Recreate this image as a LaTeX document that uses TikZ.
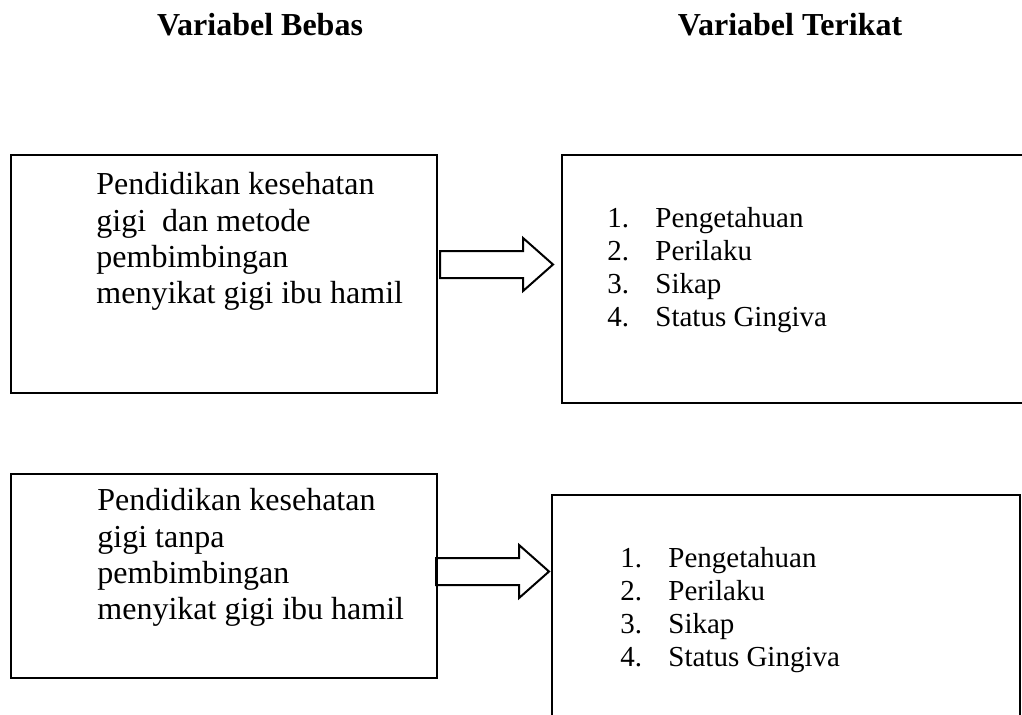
\documentclass[tikz,border=0pt]{standalone}
\usepackage{fontspec}
\setmainfont{Liberation Serif}
\usetikzlibrary{shapes.arrows}

\begin{document}
\begin{tikzpicture}[
    x=0.5pt, y=-0.5pt,
    box/.style={draw, line width=1pt, inner sep=0pt, anchor=north west},
    head/.style={font=\fontsize{16}{18.4}\selectfont\bfseries, anchor=base},
    txt/.style={font=\fontsize{16}{18.2}\selectfont, align=left, inner sep=0pt, anchor=north west},
    lst/.style={font=\fontsize{14.5}{16.5}\selectfont, align=left, inner sep=0pt, anchor=north west},
    fatarr/.style={single arrow, draw, line width=1pt, anchor=west, inner xsep=0pt, inner ysep=6.25pt,
      minimum width=25.5pt, single arrow head extend=6.5pt, single arrow head indent=0pt,
      single arrow tip angle=83, minimum height=56.5pt}
  ]
    \useasboundingbox (0,0) rectangle (1022,714);
    \newcommand{\nr}[1]{\makebox[24pt][l]{#1}}
    % judul kolom
    \node[head] (hbebas) at (260,35) {Variabel Bebas};
    \node[head] (hterikat) at (790,35) {Variabel Terikat};
    % kelompok pertama
    \node[box, minimum width=213pt, minimum height=119pt] (bebas1) at (10,154) {};
    \node[txt] (tbebas1) at (96,172) {Pendidikan kesehatan\\ gigi\ \ dan metode\\ pembimbingan\\ menyikat gigi ibu hamil};
    \node[box, minimum width=242pt, minimum height=124pt] (terikat1) at (561,154) {};
    \node[lst] (tterikat1) at (607,207) {\nr{1.}Pengetahuan\\ \nr{2.}Perilaku\\ \nr{3.}Sikap\\ \nr{4.}Status Gingiva};
    \node[fatarr] (panah1) at (439,264.5) {};
    % kelompok kedua
    \node[box, minimum width=213pt, minimum height=102pt] (bebas2) at (10,473) {};
    \node[txt] (tbebas2) at (97,488) {Pendidikan kesehatan\\ gigi tanpa\\ pembimbingan\\ menyikat gigi ibu hamil};
    \node[box, minimum width=234pt, minimum height=120pt] (terikat2) at (551,494) {};
    \node[lst] (tterikat2) at (620,547) {\nr{1.}Pengetahuan\\ \nr{2.}Perilaku\\ \nr{3.}Sikap\\ \nr{4.}Status Gingiva};
    \node[fatarr] (panah2) at (435,571.5) {};
  \end{tikzpicture}
\end{document}
